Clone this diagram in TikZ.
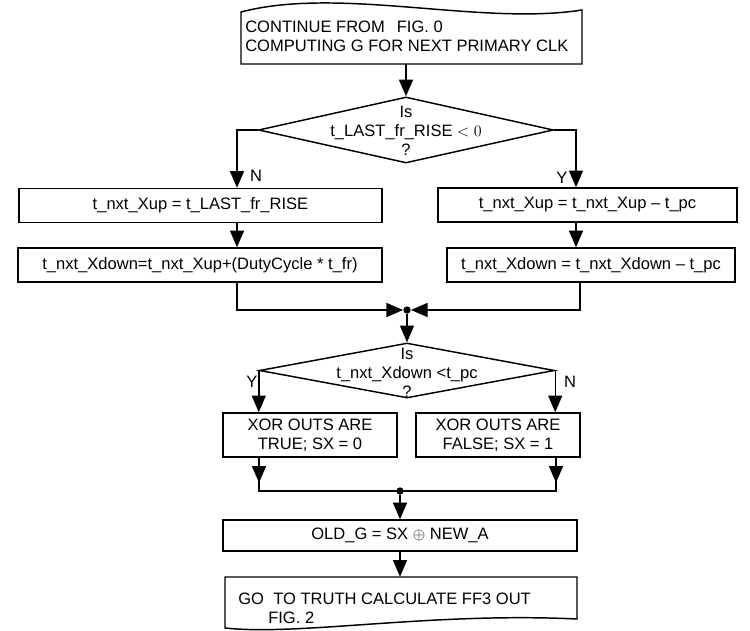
\documentclass[tikz,border=0pt]{standalone}
\usepackage{fontspec}
\setmainfont{Liberation Sans}
\usetikzlibrary{arrows.meta,shapes.geometric}
\begin{document}
\begin{tikzpicture}[x=0.75pt,y=-0.75pt,
  every node/.style={font=\fontsize{12.4pt}{14pt}\selectfont},
  flow/.style={line width=1.1pt},
  arr/.style={flow,-{Triangle[length=12.5pt,width=10.5pt]}},
  box/.style={draw,line width=1.1pt,inner sep=0pt,align=center},
  decision/.style={draw,diamond,line width=1.1pt,inner sep=0pt},
  dtext/.style={inner sep=0pt,align=center,font=\fontsize{12.4pt}{14.2pt}\selectfont},
  dot/.style={circle,fill,inner sep=0pt,minimum size=5.5pt},
  lbl/.style={inner sep=0pt},
]
\useasboundingbox (0,0) rectangle (750,631);

% columns used by the vertical connectors
\coordinate (colL) at (237,0);
\coordinate (colR) at (576,0);
\coordinate (colR2) at (580,0);
\coordinate (colXL) at (259,0);
\coordinate (colXR) at (556,0);

% start terminal (wavy top)
\node[inner sep=0pt,minimum width=341*0.75pt,minimum height=52*0.75pt] (start) at (411.5,38) {};
\draw[flow,line join=miter] (241,64) -- (582,64) -- (582,10)
  .. controls (480,26) and (340,-14) .. (241,12) -- cycle;
\node[lbl,anchor=base west] (startA) at (245,33) {CONTINUE FROM\hspace{9pt}FIG. 0};
\node[lbl,anchor=base west] (startB) at (245,52) {COMPUTING G FOR NEXT PRIMARY CLK};

% first decision
\node[decision,minimum width=295*0.75pt,minimum height=66*0.75pt] (D1) at (406,130) {};
\node[dtext] (D1t) at (406,131) {Is\\t\_LAST\_fr\_RISE $<0$\\?};

% left branch
\node[box,minimum width=363*0.75pt,minimum height=34*0.75pt] (L1) at (200.5,205.5) {t\_nxt\_Xup = t\_LAST\_fr\_RISE};
\node[box,minimum width=364*0.75pt,minimum height=34*0.75pt] (L2) at (200,265) {t\_nxt\_Xdown=t\_nxt\_Xup+(DutyCycle * t\_fr)};

% right branch
\node[box,minimum width=299*0.75pt,minimum height=34*0.75pt] (R1) at (587.5,205) {t\_nxt\_Xup = t\_nxt\_Xup -- t\_pc};
\node[box,minimum width=288*0.75pt,minimum height=34*0.75pt] (R2) at (591,265) {t\_nxt\_Xdown = t\_nxt\_Xdown -- t\_pc};

% junction
\node[dot] (J) at (407,310) {};

% second decision
\node[decision,minimum width=295*0.75pt,minimum height=55*0.75pt] (D2) at (407,370.5) {};
\node[dtext] (D2t) at (407,373) {Is\\t\_nxt\_Xdown {<}t\_pc\\?};

% outcome boxes
\node[box,minimum width=174*0.75pt,minimum height=44*0.75pt] (X1) at (310,435) {XOR OUTS ARE\\TRUE; SX = 0};
\node[box,minimum width=164*0.75pt,minimum height=44*0.75pt] (X2) at (498,435) {XOR OUTS ARE\\FALSE; SX = 1};

\node[dot] (M) at (400,491) {};

\node[box,minimum width=354*0.75pt,minimum height=31*0.75pt] (G) at (400,535.5) {OLD\_G = SX $\oplus$ NEW\_A};

% end terminal (wavy bottom)
\node[inner sep=0pt,minimum width=352*0.75pt,minimum height=43*0.75pt] (endb) at (401,598.5) {};
\draw[flow,line join=miter] (225,628) -- (225,577) -- (577,577) -- (577,619)
  .. controls (430,612) and (300,636) .. (225,628) -- cycle;
\node[lbl,anchor=base west] (endA) at (238,604) {GO\hspace{7pt}TO TRUTH CALCULATE FF3 OUT};
\node[lbl,anchor=base west] (endB) at (268,623) {FIG. 2};

% branch labels
\node[lbl] (n1) at (256,176) {N};
\node[lbl] (y1) at (562,178) {Y};
\node[lbl] (y2) at (252,382) {Y};
\node[lbl] (n2) at (570,382) {N};

% connectors
\draw[arr] (D1.north |- start.south) -- (D1.north);
\draw[arr] (D1.west) -| (L1.north -| colL);
\draw[arr] (L1.south -| colL) -- (L2.north -| colL);
\draw[arr] (D1.east) -| (R1.north -| colR);
\draw[arr] (R1.south -| colR) -- (R2.north -| colR);
\draw[arr] (L2.south -| colL) |- (J);
\draw[arr] (R2.south -| colR2) |- (J);
\draw[arr] (J) -- (D2.north);
\draw[arr] (D2.west) -- (D2.west |- X1.north);
\draw[arr] (D2.east) -- (D2.east |- X2.north);
\draw[flow] (X1.south -| colXL) -- (M -| colXL) -- (M -| colXR) -- (X2.south -| colXR);
\draw[arr] (X1.south -| colXL) -- ++(0,25);
\draw[arr] (X2.south -| colXR) -- ++(0,25);
\draw[arr] (M) -- (G.north);
\draw[arr] (G.south) -- (G.south |- endb.north);
\end{tikzpicture}
\end{document}
